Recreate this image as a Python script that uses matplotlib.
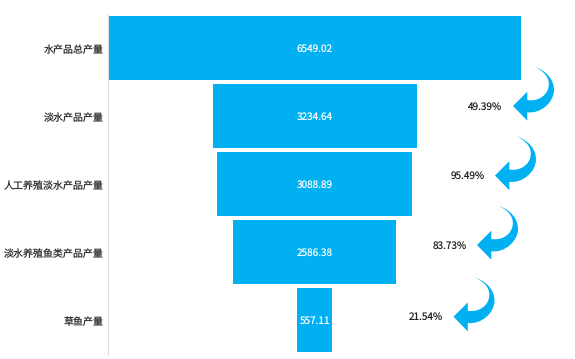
import matplotlib
matplotlib.use('Agg')
import matplotlib.pyplot as plt
from matplotlib.patches import PathPatch
from matplotlib.path import Path
from matplotlib.transforms import Affine2D, ScaledTranslation

plt.rcParams['font.family'] = ['Noto Sans CJK SC', 'DejaVu Sans']
plt.rcParams['text.hinting'] = 'no_hinting'
plt.rcParams['text.hinting_factor'] = 1

categories = ['水产品总产量', '淡水产品产量', '人工养殖淡水产品产量', '淡水养殖鱼类产品产量', '草鱼产量']
values = [6549.02, 3234.64, 3088.89, 2586.38, 557.11]
ratios = ['49.39%', '95.49%', '83.73%', '21.54%']

W, H = 575, 359
BLUE = '#00B0F0'

fig = plt.figure(figsize=(W / 100, H / 100), dpi=100, facecolor='w')
# axes box in pixels: 108.3..521.3 across, 13.6..353.6 down
ax = fig.add_axes([108.3 / W, 1 - 353.6 / H, 413 / W, 340 / H])

y = list(range(len(values)))
lefts = [-v / 2 for v in values]
ax.barh(y, values, left=lefts, height=0.94, color=BLUE, linewidth=0)
ax.set_xlim(-values[0] / 2, values[0] / 2)
ax.set_ylim(len(values) - 0.5, -0.5)

# labels sit about 1px below the bar centres in the reference
down = ScaledTranslation(0, -1 / 100, fig.dpi_scale_trans)

for i, v in zip(y, values):
    ax.text(0, i, f'{v:.2f}', color='w', fontsize=7.2, ha='center', va='center',
            transform=ax.transData + down)

ax.set_yticks(y)
ax.tick_params(axis='y', length=0, pad=3.2)
ax.set_yticklabels(categories, fontsize=7.2, color='#333333')
for label in ax.get_yticklabels():
    label.set_transform(label.get_transform() + down)
ax.set_xticks([])
for spine in ('top', 'right', 'bottom'):
    ax.spines[spine].set_visible(False)
ax.spines['left'].set_color('#dddddd')
ax.spines['left'].set_linewidth(0.8)

# curved arrows, shape given in pixels relative to the arrow tip
arrow_verts = [
    (0, 0), (14.3, -14.3), (14.3, -6),
    (22, -4.5), (32, -8), (35, -17),
    (38, -26), (33, -34), (21.3, -39.3),
    (34, -35), (41, -26), (41, -16),
    (41, -4), (28, 8), (14.3, 6.3),
    (14.3, 14.7), (0, 0),
]
arrow_codes = [
    Path.MOVETO, Path.LINETO, Path.LINETO,
    Path.CURVE4, Path.CURVE4, Path.CURVE4,
    Path.CURVE4, Path.CURVE4, Path.CURVE4,
    Path.CURVE4, Path.CURVE4, Path.CURVE4,
    Path.CURVE4, Path.CURVE4, Path.CURVE4,
    Path.LINETO, Path.CLOSEPOLY,
]
arrow_path = Path(arrow_verts, arrow_codes)
to_pixels = Affine2D().scale(1, -1).translate(0, H)

arrow_tips = [(513, 106), (495, 175.5), (477, 245), (453.5, 316.7)]
for (tx, ty), label in zip(arrow_tips, ratios):
    trans = Affine2D().translate(tx, ty) + to_pixels
    fig.add_artist(PathPatch(arrow_path, transform=trans, facecolor=BLUE, edgecolor='none'))
    fig.text(tx - 10.5, ty + 0.5, label, transform=to_pixels, fontsize=7.2, color='#222222',
             ha='right', va='center')

fig.savefig('out.png', dpi=100)
